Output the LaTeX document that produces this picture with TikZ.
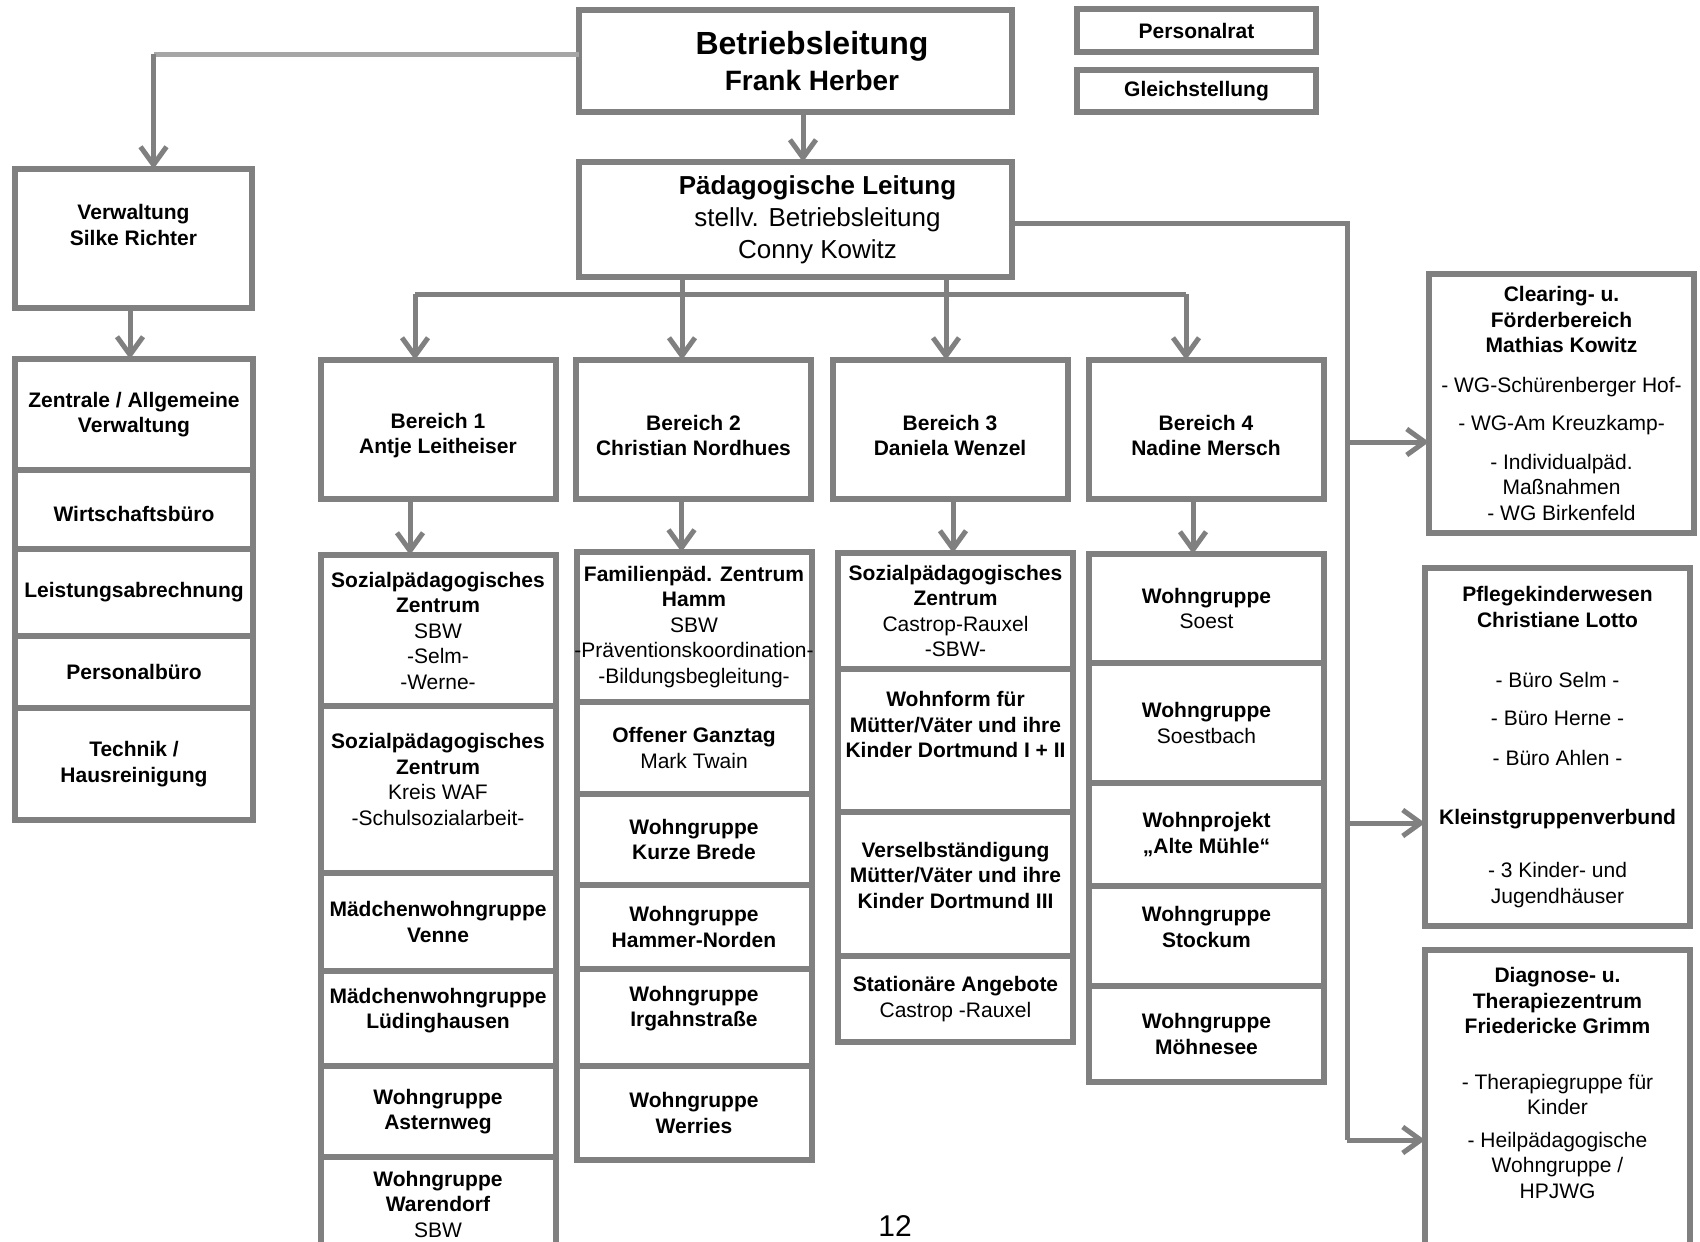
\documentclass[tikz,border=0pt]{standalone}
\usepackage{fontspec}
\setmainfont{Liberation Sans}
\usepackage{tikz}
\usetikzlibrary{positioning,arrows.meta}
\definecolor{orggray}{HTML}{808080}
\definecolor{orglight}{HTML}{A6A6A6}
\newcommand{\txtup}[1]{\rule[-#1]{0pt}{#1}}
\newcommand{\txtdown}[1]{\rule{0pt}{#1}}

\begin{document}
\begin{tikzpicture}[x=1pt, y=-1pt,
  box/.style={rectangle, draw=orggray, line width=6pt, fill=white, align=center,
    inner sep=2pt, outer sep=0pt, font=\fontsize{21}{25.5}\selectfont\bfseries},
  conn/.style={draw=orggray, line width=5pt},
  arr/.style={conn, -{Straight Barb[length=18pt, width=26pt]}},
  verwbox/.style={box, minimum width=238pt},
  bereich/.style={box, minimum width=235pt, minimum height=139pt},
  colbox/.style={box, minimum width=235pt},
  sidebox/.style={box, minimum width=265pt}
]
\path[use as bounding box, fill=white] (0,0) rectangle (1700,1242);

% Leitung
\node[box, minimum width=433pt, minimum height=102pt, font=\fontsize{32}{36}\selectfont\bfseries] (bl) at (795.5,61)
  {\hspace*{33pt}Betriebsleitung\\\hspace*{33pt}{\fontsize{28}{36}\selectfont Frank Herber}};
\node[box, minimum width=239pt, minimum height=43pt] (prat) at (1196.5,30.5) {Personalrat};
\node[box, minimum width=239pt, minimum height=42pt] (gleich) at (1196.5,91) {Gleichstellung};
\node[box, minimum width=433pt, minimum height=115pt, font=\fontsize{26}{32}\selectfont\bfseries] (pl) at (795.5,219.5)
  {\hspace*{44pt}Pädagogische Leitung\\\hspace*{44pt}{\mdseries stellv. Betriebsleitung}\\\hspace*{44pt}{\mdseries Conny Kowitz}};

% Verwaltung
\node[box, minimum width=237pt, minimum height=139pt] (verw) at (133.5,238.5) {Verwaltung\\Silke Richter\txtup{27pt}};
\node[verwbox, minimum height=111pt, anchor=north] (zentral) at (134,359) {Zentrale / Allgemeine\\Verwaltung};
\node[verwbox, minimum height=79pt, below=0pt of zentral] (wibuero) {\txtdown{25pt}Wirtschaftsbüro};
\node[verwbox, minimum height=87pt, below=0pt of wibuero] (leist) {Leistungsabrechnung};
\node[verwbox, minimum height=72pt, below=0pt of leist] (pbuero) {Personalbüro};
\node[verwbox, minimum height=112pt, below=0pt of pbuero] (technik) {Technik /\\Hausreinigung};

% Bereiche
\node[bereich] (b1) at (438,429.5) {\txtdown{27pt}Bereich 1\\Antje Leitheiser};
\node[bereich] (b2) at (693.5,429.5) {\txtdown{27pt}Bereich 2\\Christian Nordhues};
\node[bereich] (b3) at (950,429.5) {\txtdown{27pt}Bereich 3\\Daniela Wenzel};
\node[bereich] (b4) at (1206,429.5) {\txtdown{27pt}Bereich 4\\Nadine Mersch};

% Bereich 1
\node[colbox, minimum height=151pt, anchor=north] (szsbw) at (438,555)
  {Sozialpädagogisches\\Zentrum\\{\mdseries SBW}\\{\mdseries -Selm-}\\{\mdseries -Werne-}};
\node[colbox, minimum height=167pt, below=0pt of szsbw] (szwaf)
  {Sozialpädagogisches\\Zentrum\\{\mdseries Kreis WAF}\\{\mdseries -Schulsozialarbeit-}\txtup{20pt}};
\node[colbox, minimum height=98pt, below=0pt of szwaf] (venne) {Mädchenwohngruppe\\Venne};
\node[colbox, minimum height=95pt, below=0pt of venne] (luedi) {Mädchenwohngruppe\\Lüdinghausen\txtup{20pt}};
\node[colbox, minimum height=91pt, below=0pt of luedi] (astern) {Wohngruppe\\Asternweg};
\node[colbox, minimum height=94pt, below=0pt of astern] (waren) {Wohngruppe\\Warendorf\\{\mdseries SBW}};

% Bereich 2
\node[colbox, minimum height=150pt, anchor=north] (fpz) at (694,552)
  {Familienpäd. Zentrum\\Hamm\\{\mdseries SBW}\\\makebox[0pt]{\mdseries -Präventionskoordination-}\\{\mdseries -Bildungsbegleitung-}};
\node[colbox, minimum height=92pt, below=0pt of fpz] (ganztag) {Offener Ganztag\\{\mdseries Mark Twain}};
\node[colbox, minimum height=91pt, below=0pt of ganztag] (brede) {Wohngruppe\\Kurze Brede};
\node[colbox, minimum height=84pt, below=0pt of brede] (hammer) {Wohngruppe\\Hammer-Norden};
\node[colbox, minimum height=97pt, below=0pt of hammer] (irgahn) {Wohngruppe\\Irgahnstraße\txtup{22pt}};
\node[colbox, minimum height=94pt, below=0pt of irgahn] (werries) {Wohngruppe\\Werries};

% Bereich 3
\node[colbox, minimum height=116pt, anchor=north] (szcr) at (955.5,553)
  {Sozialpädagogisches\\Zentrum\\{\mdseries Castrop-Rauxel}\\{\mdseries -SBW-}};
\node[colbox, minimum height=143pt, below=0pt of szcr] (wohnform)
  {Wohnform für\\Mütter/Väter und ihre\\Kinder Dortmund I + II\txtup{32pt}};
\node[colbox, minimum height=144pt, below=0pt of wohnform] (versel)
  {Verselbständigung\\Mütter/Väter und ihre\\Kinder Dortmund III\txtup{18pt}};
\node[colbox, minimum height=86pt, below=0pt of versel] (station) {Stationäre Angebote\\{\mdseries Castrop -Rauxel}};

% Bereich 4
\node[colbox, minimum height=109pt, anchor=north] (soest) at (1206.5,554) {Wohngruppe\\{\mdseries Soest}};
\node[colbox, minimum height=120pt, below=0pt of soest] (soestb) {Wohngruppe\\{\mdseries Soestbach}};
\node[colbox, minimum height=103pt, below=0pt of soestb] (muehle) {Wohnprojekt\\„Alte Mühle“};
\node[colbox, minimum height=100pt, below=0pt of muehle] (stockum) {Wohngruppe\\Stockum\txtup{18pt}};
\node[colbox, minimum height=96pt, below=0pt of stockum] (moehne) {Wohngruppe\\Möhnesee};

% rechte Spalte
\node[sidebox, minimum height=259pt] (clr) at (1561.5,403.5)
  {Clearing- u.\\Förderbereich\\Mathias Kowitz\\[14pt]{\mdseries - WG-Schürenberger Hof-}\\[13pt]{\mdseries - WG-Am Kreuzkamp-}\\[13pt]{\mdseries - Individualpäd.}\\{\mdseries Maßnahmen}\\{\mdseries - WG Birkenfeld}};
\node[sidebox, minimum height=358pt] (pfl) at (1557.5,747)
  {Pflegekinderwesen\\Christiane Lotto\\[35pt]{\mdseries - Büro Selm -}\\[12pt]{\mdseries - Büro Herne -}\\[15pt]{\mdseries - Büro Ahlen -}\\[33pt]Kleinstgruppenverbund\\[28pt]{\mdseries - 3 Kinder- und}\\{\mdseries Jugendhäuser}};
\node[sidebox, minimum height=320pt, anchor=north] (diag) at (1557.5,950)
  {Diagnose- u.\\Therapiezentrum\\Friedericke Grimm\\[30pt]{\mdseries - Therapiegruppe für}\\{\mdseries Kinder}\\[7pt]{\mdseries - Heilpädagogische}\\{\mdseries Wohngruppe /}\\{\mdseries HPJWG}\txtup{54pt}};

\node[anchor=base, font=\fontsize{30}{36}\selectfont] (pgno) at (895,1236) {12};

% Verbindungen
\coordinate (vcorner) at (153.5,54);
\draw[conn, draw=orglight] (bl.west |- vcorner) -- (vcorner);
\draw[arr] (vcorner) -- (vcorner |- verw.north);
\draw[arr] ([xshift=-3.5pt]verw.south) -- ([xshift=-3.5pt]verw.south |- zentral.north);
\draw[arr] ([xshift=7.5pt]bl.south) -- ([xshift=7.5pt]bl.south |- pl.north);

\coordinate (bus1) at (415,294);
\coordinate (bus2) at (682,294);
\coordinate (bus3) at (946,294);
\coordinate (bus4) at (1186,294);
\draw[conn] (bus1) -- (bus4);
\draw[conn] (pl.south -| bus2) -- (bus2);
\draw[conn] (pl.south -| bus3) -- (bus3);
\foreach \i in {1,...,4}
  \draw[arr] (bus\i) -- (bus\i |- b\i.north);

\draw[arr] ([xshift=-28pt]b1.south) -- ([xshift=-28pt]b1.south |- szsbw.north);
\draw[arr] ([xshift=-12pt]b2.south) -- ([xshift=-12pt]b2.south |- fpz.north);
\draw[arr] ([xshift=3pt]b3.south) -- ([xshift=3pt]b3.south |- szcr.north);
\draw[arr] ([xshift=-13pt]b4.south) -- ([xshift=-13pt]b4.south |- soest.north);

\coordinate (rtop) at (1347,223);
\coordinate (rclr) at (1347,442);
\coordinate (rpfl) at (1347,823);
\coordinate (rdia) at (1347,1140);
\draw[conn] (pl.east |- rtop) -- (rtop) -- (rdia);
\draw[arr] (rclr) -- (rclr -| clr.west);
\draw[arr] (rpfl) -- (rpfl -| pfl.west);
\draw[arr] (rdia) -- (rdia -| diag.west);
\end{tikzpicture}
\end{document}
